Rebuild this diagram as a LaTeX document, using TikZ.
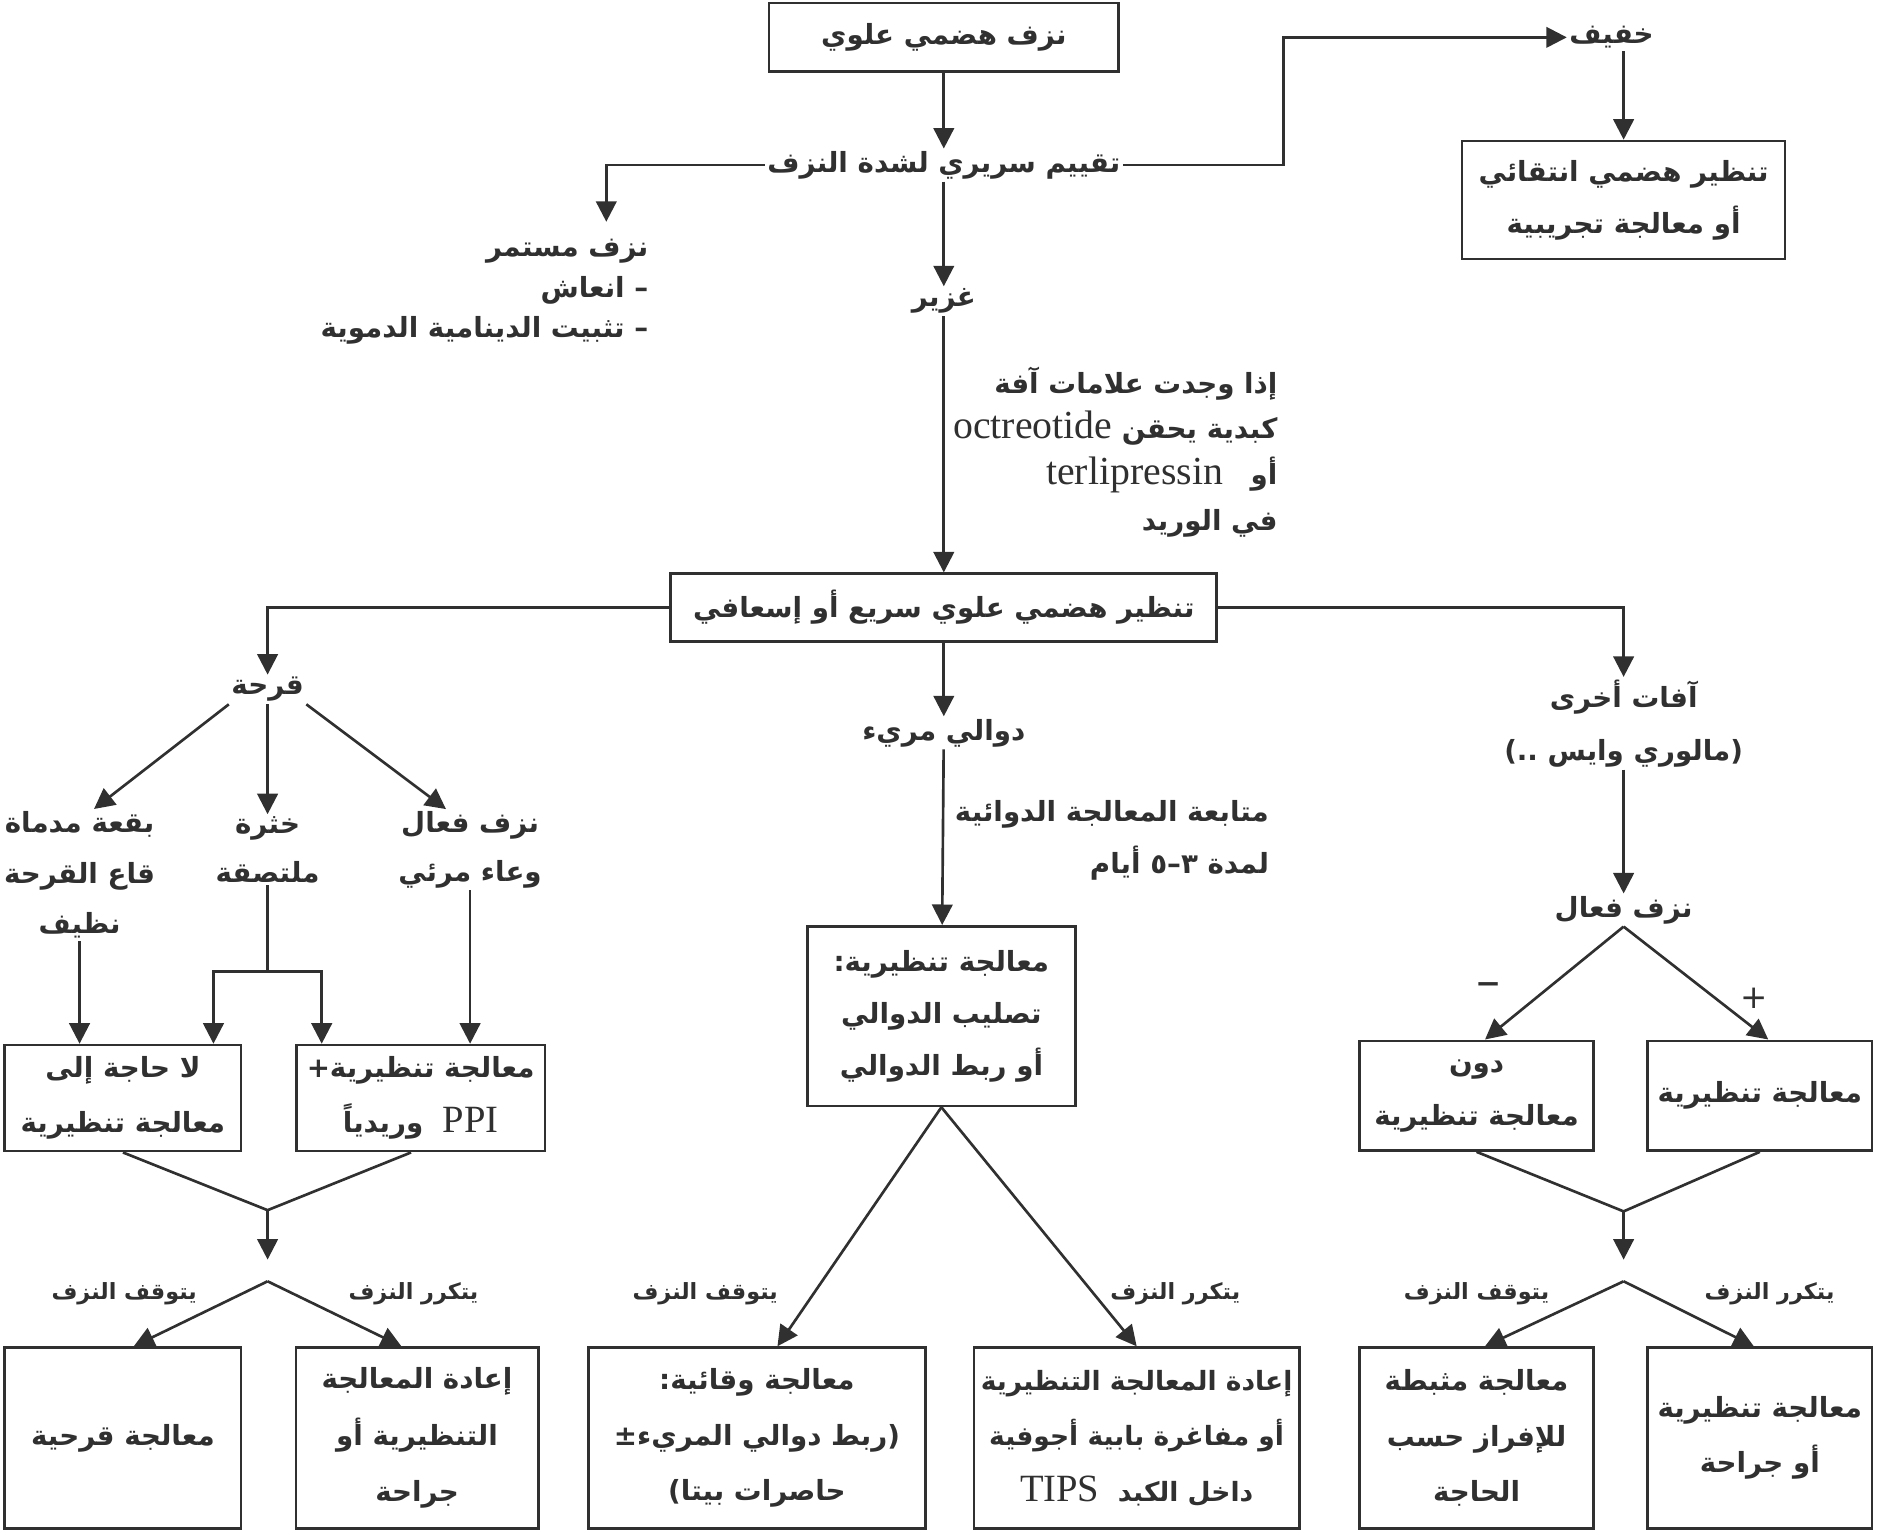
\documentclass[tikz,border=0pt]{standalone}
\usepackage{fontspec}
\TeXXeTstate=1
\newfontfamily\arabicfont[Script=Arabic]{DejaVu Sans}
\newfontfamily\latinfont{Liberation Serif}
\usetikzlibrary{arrows.meta,calc}
\definecolor{ink}{HTML}{303030}
\newcommand{\AR}[1]{\beginR #1\endR}
\newcommand{\LT}[2][34]{\beginL{\latinfont\mdseries\fontsize{#1}{30}\selectfont #2}\endL}
\tikzset{
  every node/.style={text=ink, font=\arabicfont\bfseries\fontsize{23}{44}\selectfont, inner sep=2pt},
  box/.style={draw=ink, line width=2.2pt, align=center, inner sep=4pt},
  sk/.style={font=\arabicfont\bfseries\fontsize{23}{#1}\selectfont},
  sks/.style={font=\arabicfont\bfseries\fontsize{22}{#1}\selectfont},
  small/.style={font=\arabicfont\bfseries\fontsize{18.5}{24}\selectfont},
  arr/.style={draw=ink, line width=2.2pt, -{Triangle[length=17pt,width=17pt]}},
  ln/.style={draw=ink, line width=2.2pt},
}
\begin{document}
\begin{tikzpicture}[x=1pt,y=-1pt]
\useasboundingbox (0,0) rectangle (1568,1273);
% top part
\node[box, minimum width=290pt, minimum height=57pt] (top) at (783,31) {\AR{نزف هضمي علوي}};
\node (assess) at (783,137) {\AR{تقييم سريري لشدة النزف}};
\node (light) at (1337,31) {\AR{خفيف}};
\node[box, sk=43, minimum width=268pt, minimum height=98pt] (lightbox) at (1347,166) {\AR{تنظير هضمي انتقائي}\\\AR{أو معالجة تجريبية}};
\node[sk=34, align=right, anchor=east] (persist) at (540,242) {\AR{نزف مستمر}\\\AR{– انعاش}\\\AR{– تثبيت الدينامية الدموية}};
\node (heavy) at (783,250) {\AR{غزير}};
\node[sk=38, align=right, anchor=east] (note1) at (1062,375) {\AR{إذا وجدت علامات آفة}\\\AR{كبدية يحقن \LT[33]{octreotide}}\\\AR{أو\quad\LT[33]{terlipressin}}\\\AR{في الوريد}};
\node[box, minimum width=453pt, minimum height=56pt] (endo) at (783,504) {\AR{تنظير هضمي علوي سريع أو إسعافي}};
% second level
\node (ulcer) at (222,572) {\AR{قرحة}};
\node (varices) at (783,608) {\AR{دوالي مريء}};
\node[align=center] (other) at (1347,600) {\AR{آفات أخرى}\\\AR{(مالوري وايس ..)}};
% ulcer branch
\node[sk=42, align=center] (u1) at (66,726) {\AR{بقعة مدماة}\\\AR{قاع القرحة}\\\AR{نظيف}};
\node[sk=40, align=center] (u2) at (222,705) {\AR{خثرة}\\\AR{ملتصقة}};
\node[sk=40, align=center] (u3) at (390,705) {\AR{نزف فعال}\\\AR{وعاء مرئي}};
\node[box, sk=46, minimum width=196pt, minimum height=88pt] (b1) at (102,911) {\AR{لا حاجة إلى}\\\AR{معالجة تنظيرية}};
\node[box, sk=46, minimum width=206pt, minimum height=88pt] (b2) at (349,911) {\AR{معالجة تنظيرية+}\\\AR{\LT[32]{PPI}\ \ وريدياً}};
\node[box, minimum width=196pt, minimum height=150pt] (b3) at (102,1193) {\AR{معالجة قرحية}};
\node[box, sk=47, minimum width=201pt, minimum height=150pt] (b4) at (346,1193) {\AR{إعادة المعالجة}\\\AR{التنظيرية أو}\\\AR{جراحة}};
\node[small] (stop1) at (103,1073) {\AR{يتوقف النزف}};
\node[small] (rec1) at (343,1073) {\AR{يتكرر النزف}};
% varices branch
\node[sk=43, align=right, anchor=east] (note2) at (1055,697) {\AR{متابعة المعالجة الدوائية}\\\AR{لمدة ٣–٥ أيام}};
\node[box, sk=43, minimum width=222pt, minimum height=149pt] (vbox) at (781,843) {\AR{معالجة تنظيرية:}\\\AR{تصليب الدوالي}\\\AR{أو ربط الدوالي}};
\node[box, sk=46, minimum width=280pt, minimum height=150pt] (v1) at (628,1193) {\AR{معالجة وقائية:}\\\AR{(ربط دوالي المريء±}\\\AR{حاصرات بيتا)}};
\node[box, sks=46, minimum width=270pt, minimum height=150pt] (v2) at (943,1193) {\AR{إعادة المعالجة التنظيرية}\\\AR{أو مفاغرة بابية أجوفية}\\\AR{داخل الكبد\ \ \LT[32]{TIPS}}};
\node[small] (stop2) at (585,1073) {\AR{يتوقف النزف}};
\node[small] (rec2) at (975,1073) {\AR{يتكرر النزف}};
% other branch
\node (active) at (1347,755) {\AR{نزف فعال}};
\node[font=\arabicfont\fontsize{40}{40}\selectfont] (minus) at (1235,821) {–};
\node[font=\arabicfont\fontsize{27}{30}\selectfont] (plus) at (1455,828) {+};
\node[box, sk=44, minimum width=194pt, minimum height=91pt] (r1) at (1225,909) {\AR{دون}\\\AR{معالجة تنظيرية}};
\node[box, minimum width=186pt, minimum height=91pt] (r2) at (1460,909) {\AR{معالجة تنظيرية}};
\node[box, sk=46, minimum width=194pt, minimum height=150pt] (r3) at (1225,1193) {\AR{معالجة مثبطة}\\\AR{للإفراز حسب}\\\AR{الحاجة}};
\node[box, sk=46, minimum width=186pt, minimum height=150pt] (r4) at (1460,1193) {\AR{معالجة تنظيرية}\\\AR{أو جراحة}};
\node[small] (stop3) at (1225,1073) {\AR{يتوقف النزف}};
\node[small] (rec3) at (1468,1073) {\AR{يتكرر النزف}};
% coordinates
\coordinate (pk) at (503,184);
\coordinate (k1) at (1065,80);
\coordinate (j1) at (222,806);
\coordinate (c1) at (222,1004);
\coordinate (c1t) at (222,1045);
\coordinate (c2) at (222,1063);
\coordinate (c3) at (1347,1005);
\coordinate (c3t) at (1347,1045);
\coordinate (c4) at (1347,1063);
% connectors
\draw[arr] (top) -- (assess);
\draw[arr] (assess.west) -| (pk);
\draw[arr] (assess.east) -| (k1) |- (light.west);
\draw[arr] (light.south -| lightbox.north) -- (lightbox.north);
\draw[arr] (assess) -- (heavy);
\draw[arr] (heavy) -- (endo);
\draw[arr] (endo.west) -| (ulcer.north);
\draw[arr] (endo.east) -| (other.north);
\draw[arr] (endo) -- (varices);
\draw[arr] (ulcer.south west) -- ($(u1.north)+(12,0)$);
\draw[arr] (ulcer) -- (u2);
\draw[arr] (ulcer.south east) -- ($(u3.north)+(-20,0)$);
\draw[arr] (u1.south) -- (u1.south |- b1.north);
\draw[ln] (u2) -- (j1);
\draw[arr] (j1) -| ($(b1.north east)+(-24,0)$);
\draw[arr] (j1) -| ($(b2.north west)+(22,0)$);
\draw[arr] (u3.south) -- (u3.south |- b2.north);
\draw[ln] (b1.south) -- (c1) -- ($(b2.south)+(-8,0)$);
\draw[arr] (c1) -- (c1t);
\draw[arr] (c2) -- ($(b3.north)+(9,0)$);
\draw[arr] (c2) -- ($(b4.north)+(-13,0)$);
\draw[arr] (varices) -- (vbox);
\draw[arr] (vbox.south) -- ($(v1.north)+(17,0)$);
\draw[arr] (vbox.south) -- (v2.north);
\draw[arr] (other) -- (active);
\draw[arr] (active.south) -- ($(r1.north)+(7,0)$);
\draw[arr] (active.south) -- ($(r2.north)+(7,0)$);
\draw[ln] (r1.south) -- (c3) -- (r2.south);
\draw[arr] (c3) -- (c3t);
\draw[arr] (c4) -- ($(r3.north)+(7,0)$);
\draw[arr] (c4) -- ($(r4.north)+(-5,0)$);
\end{tikzpicture}
\end{document}
